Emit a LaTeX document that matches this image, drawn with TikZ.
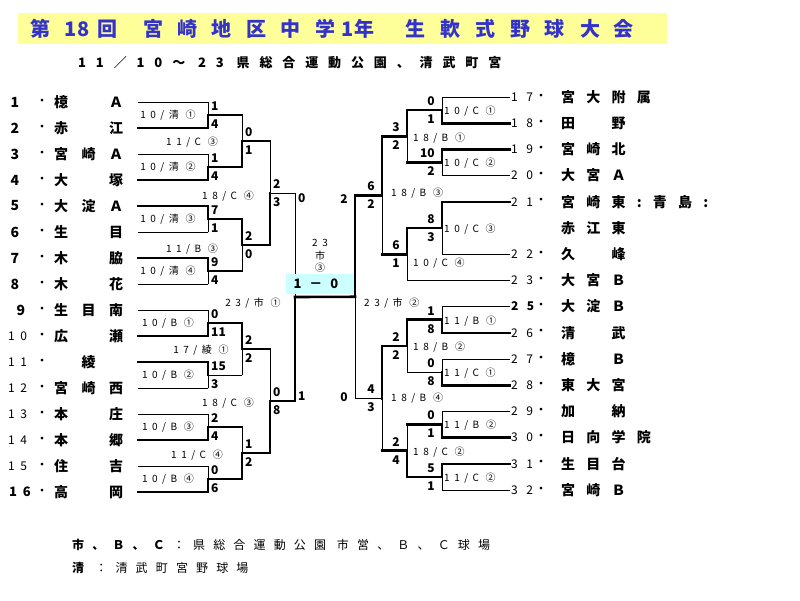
\documentclass[tikz,border=0pt]{standalone}
\usepackage{fontspec}
\setmainfont{Noto Sans CJK JP}
\newfontfamily\lnamefont[LetterSpace=96]{Noto Sans CJK JP}
\newfontfamily\rnamefont[LetterSpace=80]{Noto Sans CJK JP}
\newfontfamily\tightfont[LetterSpace=45]{Noto Sans CJK JP}
\newfontfamily\widefont[LetterSpace=70]{Noto Sans CJK JP}
\newfontfamily\subfont[LetterSpace=76]{Noto Sans CJK JP}
\newfontfamily\notefont[LetterSpace=68]{Noto Sans CJK JP}
\usetikzlibrary{calc}

\definecolor{banneryellow}{RGB}{255,255,153}
\definecolor{bannerblue}{RGB}{51,51,204}
\definecolor{finalcyan}{RGB}{204,255,255}

\tikzstyle{lose}=[draw=black, line width=0.9pt, line cap=rect]
\tikzstyle{win}=[draw=black, line width=2.6pt, line cap=rect]
\tikzstyle{lname}=[inner sep=0pt, anchor=west, font=\lnamefont\bfseries\fontsize{14}{14}\selectfont]
\tikzstyle{rname}=[inner sep=0pt, anchor=west, font=\rnamefont\bfseries\fontsize{14}{14}\selectfont]
\tikzstyle{dot}=[inner sep=0pt, font=\fontsize{13}{13}\selectfont]
\tikzstyle{bignum}=[inner sep=0pt, font=\bfseries\fontsize{14}{14}\selectfont]
\tikzstyle{smallnum}=[inner sep=0pt, anchor=west, font=\tightfont\fontsize{12}{12}\selectfont]
\tikzstyle{thindigits}=[inner sep=0pt, anchor=west, font=\widefont\fontsize{12}{12}\selectfont]
\tikzstyle{bolddigits}=[inner sep=0pt, anchor=west, font=\widefont\bfseries\fontsize{12}{12}\selectfont]
\tikzstyle{score}=[inner sep=0pt, font=\bfseries\fontsize{12}{12}\selectfont]
\tikzstyle{match}=[inner sep=0pt, font=\tightfont\fontsize{10}{10}\selectfont]
\tikzstyle{banner}=[inner sep=0pt, text=bannerblue, font=\bfseries\fontsize{20}{20}\selectfont]
\tikzstyle{subtitle}=[inner sep=0pt, anchor=west, font=\subfont\bfseries\fontsize{13}{13}\selectfont]
\tikzstyle{note}=[inner sep=0pt, anchor=west, font=\notefont\fontsize{12}{12}\selectfont]

\begin{document}
\begin{tikzpicture}[x=1pt, y=-1pt]
    \useasboundingbox (0,0) rectangle (800,600);

    % title
    \node[fill=banneryellow, minimum width=649pt, minimum height=31pt, inner sep=0pt, anchor=north west] (bannerbox) at (18,13) {};
    \foreach \x/\c [count=\k] in {40/第,77/18,107/回,153/宮,187/崎,221/地,256/区,290/中,325/学,358/1年,415/生,450/軟,485/式,520/野,554/球,590/大,623/会}
        \node[banner] (title\k) at (\x,29) {\c};
    \node[subtitle] (dates) at (78,63) {11／10～ 23 県総合運動公園、清武町宮};

    % left teams
    \foreach \i/\nm in {1/檍　Ａ,2/赤　江,3/宮崎Ａ,4/大　塚,5/大淀Ａ,6/生　目,7/木　脇,8/木　花,9/生目南,10/広　瀬,11/　綾　,12/宮崎西,13/本　庄,14/本　郷,15/住　吉,16/高　岡}
    {
        \coordinate (t\i) at (138, {102+26*(\i-1)});
        \node[dot] (dot\i) at (42, {102+26*(\i-1)}) {・};
        \node[lname] (name\i) at (54, {102+26*(\i-1)}) {\nm};
    }
    \foreach \i in {1,...,8}
        \node[bignum] (no\i) at (15, {102+26*(\i-1)}) {\i};
    \node[bignum] (no9) at (21, 310) {9};
    \foreach \i in {10,...,15}
        \node[smallnum] (no\i) at (8, {102+26*(\i-1)}) {\i};
    \node[smallnum, font=\tightfont\bfseries\fontsize{13}{13}\selectfont] (no16) at (9, 492) {16};

    % right teams
    \foreach \n/\k/\nm/\st in {17/0/宮大附属/thindigits,18/1/田　野/thindigits,19/2/宮崎北/thindigits,20/3/大宮Ａ/thindigits,21/4/宮崎東:青島:/thindigits,22/6/久　峰/thindigits,23/7/大宮Ｂ/thindigits,25/8/大淀Ｂ/bolddigits,26/9/清　武/thindigits,27/10/檍　Ｂ/thindigits,28/11/東大宮/thindigits,29/12/加　納/thindigits,30/13/日向学院/thindigits,31/14/生目台/thindigits,32/15/宮崎Ｂ/thindigits}
    {
        \coordinate (s\n) at (510, {97+26.2*\k});
        \node[\st] (no\n) at (511, {97+26.2*\k}) {\n};
        \node[dot] (dot\n) at (541, {97+26.2*\k}) {・};
        \node[rname] (name\n) at (561, {97+26.2*\k}) {\nm};
    }
    \node[rname] (name21b) at (561, {97+26.2*5}) {赤江東};

    % left junctions
    \foreach \k/\p/\q in {1/1/2,2/3/4,3/5/6,4/7/8,5/9/10,6/11/12,7/13/14,8/15/16}
        \coordinate (a\k) at ($(t\p)!.5!(t\q)+(70,0)$);
    \foreach \k/\p/\q in {1/1/2,2/3/4,3/5/6,4/7/8}
        \coordinate (b\k) at ($(a\p)!.5!(a\q)+(34,0)$);
    \coordinate (c1) at ($(b1)!.5!(b2)+(28,0)$);
    \coordinate (c2) at ($(b3)!.5!(b4)+(28,0)$);
    \coordinate (d1) at ($(c1)!.5!(c2)+(25,0)$);

    % right junctions
    \foreach \k/\p/\q in {1/17/18,2/19/20,3/21/22,4/25/26,5/27/28,6/29/30,7/31/32}
        \coordinate (e\k) at ($(s\p)!.5!(s\q)+(-68,0)$);
    \coordinate (f1) at ($(e1)!.5!(e2)+(-35,0)$);
    \coordinate (f2) at ($(e3)!.5!(e3 |- s23)+(-35,0)$);
    \coordinate (f3) at ($(e4)!.5!(e5)+(-35,0)$);
    \coordinate (f4) at ($(e6)!.5!(e7)+(-35,0)$);
    \coordinate (g1) at ($(f1)!.5!(f2)+(-25,0)$);
    \coordinate (g2) at ($(f3)!.5!(f4)+(-25,0)$);
    \coordinate (d2) at ($(g1)!.5!(g2)+(-27,0)$);

    % left bracket
    \foreach \u/\v/\h/\w in {t1/a1/lose/lose,t2/a1/win/win,t3/a2/lose/lose,t4/a2/win/win,
        t5/a3/win/win,t6/a3/lose/lose,t7/a4/win/win,t8/a4/lose/lose,
        t9/a5/lose/lose,t10/a5/win/win,t11/a6/win/win,t12/a6/lose/lose,
        t13/a7/lose/lose,t14/a7/win/win,t15/a8/lose/lose,t16/a8/win/win,
        a1/b1/win/lose,a2/b1/win/win,a3/b2/win/win,a4/b2/win/lose,
        a5/b3/win/win,a6/b3/lose/lose,a7/b4/win/lose,a8/b4/win/win,
        b1/c1/win/lose,b2/c1/win/win,b3/c2/win/lose,b4/c2/win/win,
        c1/d1/lose/lose,c2/d1/win/win}
    {
        \draw[\h] (\u) -- (\u -| \v);
        \draw[\w] (\u -| \v) -- (\v);
    }

    \node[fill=finalcyan, minimum width=68pt, minimum height=20pt, inner sep=0pt] (finalbox) at (320,284) {};

    % right bracket
    \foreach \u/\v/\h/\w in {s17/e1/lose/lose,s18/e1/win/win,s19/e2/win/win,s20/e2/lose/lose,
        s21/e3/win/win,s22/e3/lose/lose,s23/f2/lose/lose,
        s25/e4/lose/lose,s26/e4/win/win,s27/e5/lose/lose,s28/e5/win/win,
        s29/e6/lose/lose,s30/e6/win/win,s31/e7/win/win,s32/e7/lose/lose,
        e1/f1/win/win,e2/f1/win/lose,e3/f2/win/win,
        e4/f3/win/win,e5/f3/lose/lose,e6/f4/win/lose,e7/f4/win/win,
        f1/g1/win/win,f2/g1/win/lose,f3/g2/win/win,f4/g2/win/lose,
        g1/d2/win/win,g2/d2/lose/lose}
    {
        \draw[\h] (\u) -- (\u -| \v);
        \draw[\w] (\u -| \v) -- (\v);
    }
    \draw[win] (d1) -- (d2);

    % scores
    \foreach \j/\p/\q in {a1/1/4,a2/1/4,a3/7/1,a4/9/4,a5/0/11,a6/15/3,a7/2/4,a8/0/6,b1/0/1,b2/2/0,b3/2/2,b4/1/2,c1/2/3,c2/0/8}
    {
        \node[score, anchor=west] (\j-top) at ($(\j)+(3,-9)$) {\p};
        \node[score, anchor=west] (\j-bot) at ($(\j)+(3,9)$) {\q};
    }
    \foreach \j/\p/\q in {e1/0/1,e2/10/2,e3/8/3,e4/1/8,e5/0/8,e6/0/1,e7/5/1,f1/3/2,f2/6/1,f3/2/2,f4/2/4,g1/6/2,g2/4/3}
    {
        \node[score, anchor=east] (\j-top) at ($(\j)+(-7,-9)$) {\p};
        \node[score, anchor=east] (\j-bot) at ($(\j)+(-7,9)$) {\q};
    }
    \node[score, anchor=west] (d1-top) at ($(c1 -| d1)+(3,5)$) {0};
    \node[score, anchor=west] (d1-bot) at ($(c2 -| d1)+(3,-5)$) {1};
    \node[score, anchor=east] (d2-top) at ($(g1 -| d2)+(-7,4)$) {2};
    \node[score, anchor=east] (d2-bot) at ($(g2 -| d2)+(-7,-1)$) {0};

    % match labels, left
    \node[match] (lab-a1) at ($(a1)+(-40,0)$) {10/清 ①};
    \node[match] (lab-a2) at ($(a2)+(-40,0)$) {10/清 ②};
    \node[match] (lab-a3) at ($(a3)+(-40,0)$) {10/清 ③};
    \node[match] (lab-a4) at ($(a4)+(-40,0)$) {10/清 ④};
    \node[match] (lab-a5) at ($(a5)+(-40,0)$) {10/B ①};
    \node[match] (lab-a6) at ($(a6)+(-40,0)$) {10/B ②};
    \node[match] (lab-a7) at ($(a7)+(-40,0)$) {10/B ③};
    \node[match] (lab-a8) at ($(a8)+(-40,0)$) {10/B ④};
    \node[match] (lab-b1) at ($(b1)+(-50,1)$) {11/C ③};
    \node[match] (lab-b2) at ($(b2)+(-50,4)$) {11/B ③};
    \node[match] (lab-b3) at ($(b3)+(-41,1)$) {17/綾 ①};
    \node[match] (lab-b4) at ($(b4)+(-45,2)$) {11/C ④};
    \node[match] (lab-c1) at ($(c1)+(-42,3)$) {18/C ④};
    \node[match] (lab-c2) at ($(c2)+(-42,2)$) {18/C ③};
    \node[match] (lab-d1) at ($(d1)+(-42,6)$) {23/市 ①};

    % match labels, right
    \node[match, anchor=west] (lab-e1) at ($(e1)+(2,1)$) {10/C ①};
    \node[match, anchor=west] (lab-e2) at ($(e2)+(2,1)$) {10/C ②};
    \node[match, anchor=west] (lab-e3) at ($(e3)+(2,1)$) {10/C ③};
    \node[match, anchor=west] (lab-e4) at ($(e4)+(2,1)$) {11/B ①};
    \node[match, anchor=west] (lab-e5) at ($(e5)+(2,1)$) {11/C ①};
    \node[match, anchor=west] (lab-e6) at ($(e6)+(2,1)$) {11/B ②};
    \node[match, anchor=west] (lab-e7) at ($(e7)+(2,1)$) {11/C ②};
    \node[match, anchor=west] (lab-f1) at ($(f1)+(6,2)$) {18/B ①};
    \node[match, anchor=west] (lab-f2) at ($(f2)+(6,9)$) {10/C ④};
    \node[match, anchor=west] (lab-f3) at ($(f3)+(6,1)$) {18/B ②};
    \node[match, anchor=west] (lab-f4) at ($(f4)+(6,1)$) {18/C ②};
    \node[match, anchor=west] (lab-g1) at ($(g1)+(9,-2)$) {18/B ③};
    \node[match, anchor=west] (lab-g2) at ($(g2)+(9,0)$) {18/B ④};
    \node[match, anchor=west] (lab-d2) at ($(d2)+(9,6)$) {23/市 ②};

    % final
    \node[match] (fin-day) at (320,243) {23};
    \node[match] (fin-field) at (320,256) {市};
    \node[match] (fin-no) at (320,268) {③};
    \node[score, font=\bfseries\fontsize{13}{13}\selectfont] (finalscore) at (316,284) {1\hspace{8pt}－\hspace{8pt}0};

    % notes
    \node[note] (note1) at (72,545) {\textbf{市、Ｂ、Ｃ}：県総合運動公園 市営、Ｂ、Ｃ球場};
    \node[note] (note2) at (72,568) {\textbf{清}\hspace{3pt}：清武町宮野球場};
\end{tikzpicture}
\end{document}
